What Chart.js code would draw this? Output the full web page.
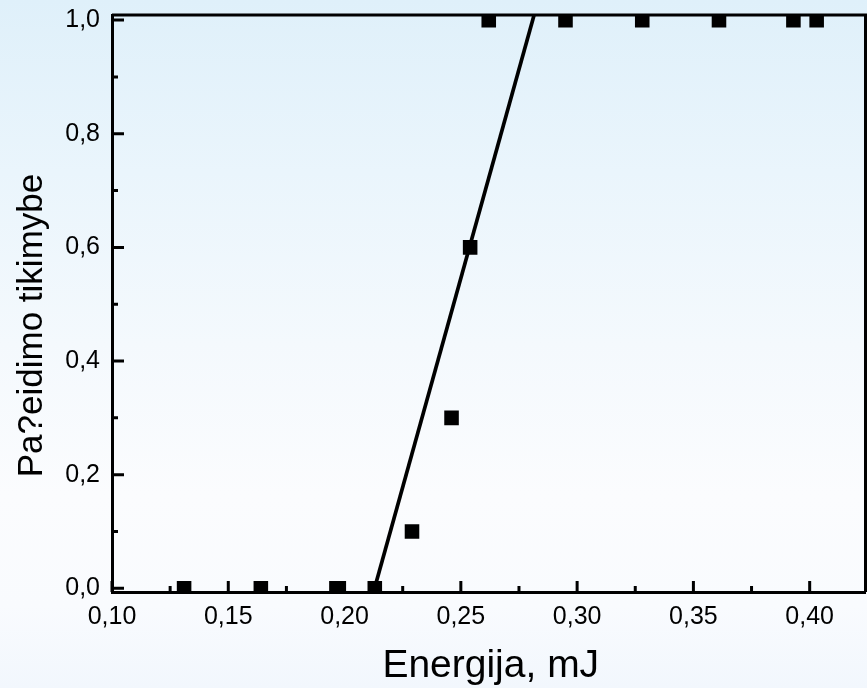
<!DOCTYPE html>
<html>
<head>
<meta charset="utf-8">
<script src="https://cdn.jsdelivr.net/npm/chart.js@4.4.1/dist/chart.umd.min.js"></script>
<style>
  html, body { margin: 0; padding: 0; }
  body {
    width: 867px; height: 688px; overflow: hidden;
    background: linear-gradient(to bottom, #dff0fa 0%, #eaf5fc 25%, #f4f9fd 50%, #fbfcfe 72%, #f9fbfe 88%, #f2f7fd 100%);
  }
  canvas { display: block; }
</style>
</head>
<body>
<canvas id="c" width="867" height="688"></canvas>
<script>
// Measured points: energy (mJ) vs damage probability
const energy = [0.131, 0.164, 0.1965, 0.1975, 0.213, 0.229, 0.246, 0.254, 0.262, 0.295, 0.328, 0.361, 0.393, 0.403];
const probability = [0, 0, 0, 0, 0, 0.1, 0.3, 0.6, 1, 1, 1, 1, 1, 1];
// Linear fit line end points
const fitEnergy = [0.2129, 0.2815];
const fitProbability = [0, 1.009];
// Axis settings
const xMin = 0.10, xMax = 0.424, xStep = 0.05;
const yMin = -0.0065, yMax = 1.009, yStep = 0.2;
const xTitle = 'Energija, mJ';
const yTitle = 'Pa?eidimo tikimybe';

const FONT = "Arial, 'Liberation Sans', sans-serif";

const framePlugin = {
  id: 'frame',
  afterLayout(chart) {
    const ys = chart.scales.y, xs = chart.scales.x;
    if (!ys._origDrawTitle) {
      ys._origDrawTitle = ys.drawTitle;
      ys.drawTitle = function () {
        const ctx = this.ctx; ctx.save(); ctx.translate(0, 22); ys._origDrawTitle.call(this); ctx.restore();
      };
    }
    if (!xs._origDrawTitle) {
      xs._origDrawTitle = xs.drawTitle;
      xs.drawTitle = function () {
        const ctx = this.ctx; ctx.save(); ctx.translate(2, 0); xs._origDrawTitle.call(this); ctx.restore();
      };
    }
  },
  afterDatasetsDraw(chart) {
    const { ctx, chartArea: a, scales: { x, y } } = chart;
    ctx.save();
    ctx.strokeStyle = '#000';
    ctx.lineCap = 'butt';
    // top and right frame
    ctx.lineWidth = 3;
    ctx.beginPath();
    ctx.moveTo(a.left, a.top);
    ctx.lineTo(a.right, a.top);
    ctx.lineTo(a.right, a.bottom);
    ctx.stroke();
    // x ticks (inward)
    const xv = x.ticks.map(t => t.value);
    ctx.lineWidth = 3;
    ctx.beginPath();
    xv.forEach((v, i) => {
      const px = x.getPixelForValue(v);
      ctx.moveTo(px, a.bottom); ctx.lineTo(px, a.bottom - 11);
      const m = v + xStep / 2;
      if (m <= x.max) {
        const pm = x.getPixelForValue(m);
        ctx.moveTo(pm, a.bottom); ctx.lineTo(pm, a.bottom - 6);
      }
    });
    // y ticks (inward)
    const yv = y.ticks.map(t => t.value);
    yv.forEach(v => {
      const py = y.getPixelForValue(v);
      ctx.moveTo(a.left, py); ctx.lineTo(a.left + 12, py);
      const m = v + yStep / 2;
      if (m <= y.max) {
        const pm = y.getPixelForValue(m);
        ctx.moveTo(a.left, pm); ctx.lineTo(a.left + 6, pm);
      }
    });
    ctx.stroke();
    ctx.restore();
  }
};

new Chart(document.getElementById('c'), {
  type: 'scatter',
  data: {
    datasets: [
      {
        label: 'data',
        data: energy.map((e, i) => ({ x: e, y: probability[i] })),
        pointStyle: 'rect',
        pointRadius: 10.3,
        pointBorderWidth: 0,
        backgroundColor: '#000',
        borderColor: '#000',
        showLine: false
      },
      {
        label: 'fit',
        data: fitEnergy.map((e, i) => ({ x: e, y: fitProbability[i] })),
        showLine: true,
        pointRadius: 0,
        borderColor: '#000',
        borderWidth: 3.7,
        backgroundColor: '#000'
      }
    ]
  },
  options: {
    responsive: false,
    devicePixelRatio: 1,
    animation: false,
    events: [],
    layout: { autoPadding: false, padding: { top: 15, right: 1.5, bottom: 0, left: 0 } },
    plugins: { legend: { display: false }, tooltip: { enabled: false } },
    scales: {
      x: {
        type: 'linear',
        position: 'bottom',
        min: xMin, max: xMax,
        grid: { display: false, drawTicks: false },
        border: { display: true, color: '#000', width: 3 },
        ticks: {
          stepSize: xStep, includeBounds: false, padding: 10, color: '#000',
          font: { family: FONT, size: 25 },
          maxRotation: 0, autoSkip: false,
          callback: v => v.toFixed(2).replace('.', ',')
        },
        title: {
          display: true, text: xTitle, color: '#000',
          font: { family: FONT, size: 39, lineHeight: 1 },
          padding: { top: 0, bottom: 2 }
        },
        afterFit(s) { s.height = 96; s.paddingLeft = 0; s.paddingRight = 0; }
      },
      y: {
        type: 'linear',
        position: 'left',
        min: yMin, max: yMax,
        grid: { display: false, drawTicks: false },
        border: { display: true, color: '#000', width: 3 },
        ticks: {
          stepSize: yStep, includeBounds: false, padding: 12, color: '#000',
          font: { family: FONT, size: 25 },
          callback: v => v.toFixed(1).replace('.', ',')
        },
        title: {
          display: true, text: yTitle, color: '#000',
          font: { family: FONT, size: 35, lineHeight: 1 },
          padding: { top: 14.5, bottom: 0 }
        },
        afterFit(s) { s.width = 112; s.paddingTop = 0; s.paddingBottom = 0; }
      }
    }
  },
  plugins: [framePlugin]
});
</script>
</body>
</html>
